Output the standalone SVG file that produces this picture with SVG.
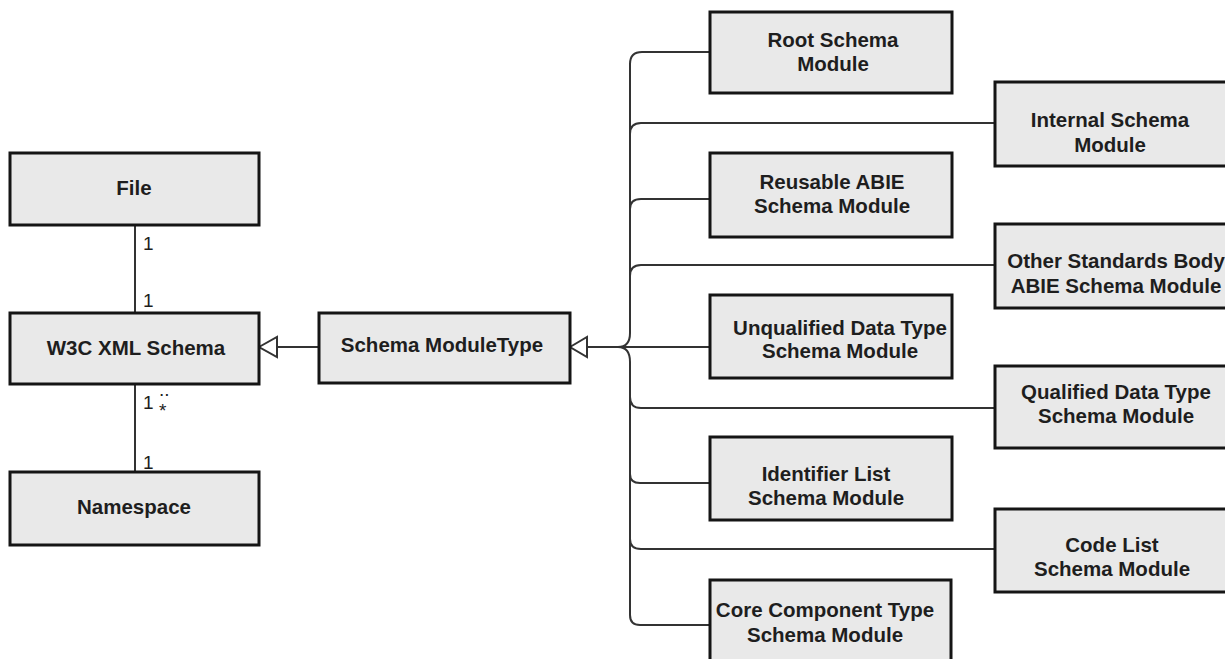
<svg xmlns="http://www.w3.org/2000/svg" width="1225" height="659" viewBox="0 0 1225 659">
  <style>
    .box { fill: #e9e9e9; stroke: #151515; stroke-width: 3; }
    .lbl { font-family: "Liberation Sans", Arial, sans-serif; font-weight: bold; font-size: 20.5px; fill: #1e1e1e; text-anchor: middle; }
    .mult { font-family: "Liberation Sans", Arial, sans-serif; font-size: 19px; fill: #1e1e1e; }
    .wire { fill: none; stroke: #333; stroke-width: 2; }
    .gen { fill: #fff; stroke: #333; stroke-width: 2; stroke-linejoin: miter; }
  </style>
  <rect width="1225" height="659" fill="#fff"/>

  <!-- connectors -->
  <g id="connectors">
    <!-- associations -->
    <line class="wire" x1="135" y1="225" x2="135" y2="313"/>
    <line class="wire" x1="135" y1="384" x2="135" y2="472"/>
    <!-- generalisation: Schema ModuleType -> W3C XML Schema -->
    <line class="wire" x1="277" y1="347" x2="319" y2="347"/>
    <polygon class="gen" points="259,347 277,337 277,357"/>
    <!-- generalisation tree: modules -> Schema ModuleType -->
    <line class="wire" x1="587" y1="347" x2="710" y2="347"/>
    <polygon class="gen" points="570,347 587,337 587,357"/>
    <path class="wire" d="M618,347 Q630,347 630,333 L630,64 Q630,52 642,52 L710,52"/>
    <path class="wire" d="M630,134 Q630,123 641,123 L995,123"/>
    <path class="wire" d="M630,209 Q630,199 641,199 L710,199"/>
    <path class="wire" d="M630,276 Q630,265 641,265 L995,265"/>
    <path class="wire" d="M618,347 Q630,347 630,362 L630,615 Q630,625 640,625 L710,625"/>
    <path class="wire" d="M630,397 Q630,408 641,408 L995,408"/>
    <path class="wire" d="M630,474 Q630,483 640,483 L710,483"/>
    <path class="wire" d="M630,539 Q630,549 641,549 L995,549"/>
    <!-- multiplicities -->
    <text class="mult" x="143" y="250">1</text>
    <text class="mult" x="143" y="307">1</text>
    <text class="mult" x="143" y="409">1</text>
    <text class="mult" x="159" y="396">..</text>
    <text class="mult" x="159" y="417">*</text>
    <text class="mult" x="143" y="469">1</text>
  </g>

  <!-- left column -->
  <g id="file">
    <rect class="box" x="10" y="153" width="249" height="72"/>
    <text class="lbl" x="134" y="195">File</text>
  </g>
  <g id="w3c-xml-schema">
    <rect class="box" x="10" y="313" width="249" height="71"/>
    <text class="lbl" x="136" y="355">W3C XML Schema</text>
  </g>
  <g id="namespace">
    <rect class="box" x="10" y="472" width="249" height="73"/>
    <text class="lbl" x="134" y="514">Namespace</text>
  </g>
  <g id="schema-module-type">
    <rect class="box" x="319" y="313" width="251" height="70"/>
    <text class="lbl" x="442" y="352">Schema ModuleType</text>
  </g>

  <!-- module types, inner column -->
  <g id="root-schema-module">
    <rect class="box" x="710" y="12" width="242" height="81"/>
    <text class="lbl" x="833" y="47">Root Schema</text>
    <text class="lbl" x="833" y="71">Module</text>
  </g>
  <g id="reusable-abie-schema-module">
    <rect class="box" x="710" y="153" width="242" height="84"/>
    <text class="lbl" x="832" y="189">Reusable ABIE</text>
    <text class="lbl" x="832" y="213">Schema Module</text>
  </g>
  <g id="unqualified-data-type-schema-module">
    <rect class="box" x="710" y="295" width="242" height="83"/>
    <text class="lbl" x="840" y="335">Unqualified Data Type</text>
    <text class="lbl" x="840" y="358">Schema Module</text>
  </g>
  <g id="identifier-list-schema-module">
    <rect class="box" x="710" y="437" width="242" height="83"/>
    <text class="lbl" x="826" y="481">Identifier List</text>
    <text class="lbl" x="826" y="505">Schema Module</text>
  </g>
  <g id="core-component-type-schema-module">
    <rect class="box" x="710" y="580" width="241" height="100"/>
    <text class="lbl" x="825" y="617">Core Component Type</text>
    <text class="lbl" x="825" y="642">Schema Module</text>
  </g>

  <!-- module types, outer column -->
  <g id="internal-schema-module">
    <rect class="box" x="995" y="82" width="260" height="84"/>
    <text class="lbl" x="1110" y="127">Internal Schema</text>
    <text class="lbl" x="1110" y="152">Module</text>
  </g>
  <g id="other-standards-body-abie-schema-module">
    <rect class="box" x="995" y="224" width="260" height="84"/>
    <text class="lbl" x="1116" y="268">Other Standards Body</text>
    <text class="lbl" x="1116" y="293">ABIE Schema Module</text>
  </g>
  <g id="qualified-data-type-schema-module">
    <rect class="box" x="995" y="366" width="260" height="82"/>
    <text class="lbl" x="1116" y="399">Qualified Data Type</text>
    <text class="lbl" x="1116" y="423">Schema Module</text>
  </g>
  <g id="code-list-schema-module">
    <rect class="box" x="995" y="509" width="260" height="83"/>
    <text class="lbl" x="1112" y="552">Code List</text>
    <text class="lbl" x="1112" y="576">Schema Module</text>
  </g>
</svg>
